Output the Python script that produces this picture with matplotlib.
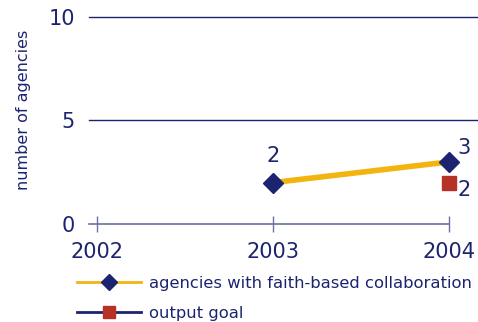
import matplotlib
matplotlib.use("Agg")
import matplotlib.pyplot as plt
from matplotlib.lines import Line2D

years = [2002, 2003, 2004]
agency_years = [2003, 2004]
agencies = [2, 3]
goal_years = [2004]
goal = [2]
y_ticks = [0, 5, 10]
series_labels = ["agencies with faith-based collaboration", "output goal"]

NAVY = "#1c2470"
AXIS = "#6a70a0"
GOLD = "#f2b50f"
RED = "#b63227"

plt.rcParams["font.family"] = ["DejaVu Sans"]

fig = plt.figure(figsize=(4.78, 3.22), dpi=100)
ax = fig.add_axes([89 / 478, 98 / 322, 389 / 478, 207 / 322])
ax.set_xlim(2002 - 8 / 176, 2004 + 29 / 176)
ax.set_ylim(0, 10)

for s in ax.spines.values():
    s.set_visible(False)

# horizontal reference lines
for v in y_ticks[1:]:
    ax.axhline(v, color=NAVY, lw=1.0, clip_on=False)
# baseline only runs to the last year
ax.plot([ax.get_xlim()[0], years[-1]], [0, 0], color=AXIS, lw=1.2, clip_on=False)

ax.set_xticks(years)
ax.set_xticklabels([str(y) for y in years])
ax.set_yticks(y_ticks)
ax.tick_params(axis="x", direction="inout", length=12, width=1.0, color=AXIS,
               labelsize=15, labelcolor=NAVY, pad=7)
ax.tick_params(axis="y", length=0, labelsize=15, labelcolor=NAVY, pad=10)
ax.set_ylabel("number of agencies", color=NAVY, fontsize=11.5)
ax.yaxis.set_label_coords(-0.15, 0.55)

ax.plot(agency_years, agencies, color=GOLD, lw=4, zorder=3, clip_on=False)
ax.plot(agency_years, agencies, linestyle="none", marker="D", ms=10,
        color=NAVY, zorder=4, clip_on=False)
ax.plot(goal_years, goal, linestyle="none", marker="s", ms=9.5,
        color=RED, zorder=4, clip_on=False)

ax.annotate(str(agencies[0]), (agency_years[0], agencies[0]), xytext=(0, 12),
            textcoords="offset points", ha="center", va="bottom",
            color=NAVY, fontsize=15)
ax.annotate(str(agencies[1]), (agency_years[1], agencies[1]), xytext=(6, 3),
            textcoords="offset points", ha="left", va="bottom",
            color=NAVY, fontsize=15)
ax.annotate(str(goal[0]), (goal_years[0], goal[0]), xytext=(6, 2),
            textcoords="offset points", ha="left", va="top",
            color=NAVY, fontsize=15)

handles = [
    Line2D([], [], color=GOLD, lw=2, marker="D", ms=8, markerfacecolor=NAVY,
           markeredgecolor=NAVY),
    Line2D([], [], color=NAVY, lw=2, marker="s", ms=9, markerfacecolor=RED,
           markeredgecolor=RED),
]
fig.legend(handles, series_labels, loc="upper left",
           bbox_to_anchor=(77 / 478, 1 - 276 / 322), frameon=False,
           fontsize=11.8, labelcolor=NAVY, handlelength=3.9, handletextpad=0.5,
           labelspacing=0.9, borderaxespad=0, borderpad=0)

fig.savefig("out.png", dpi=100)
